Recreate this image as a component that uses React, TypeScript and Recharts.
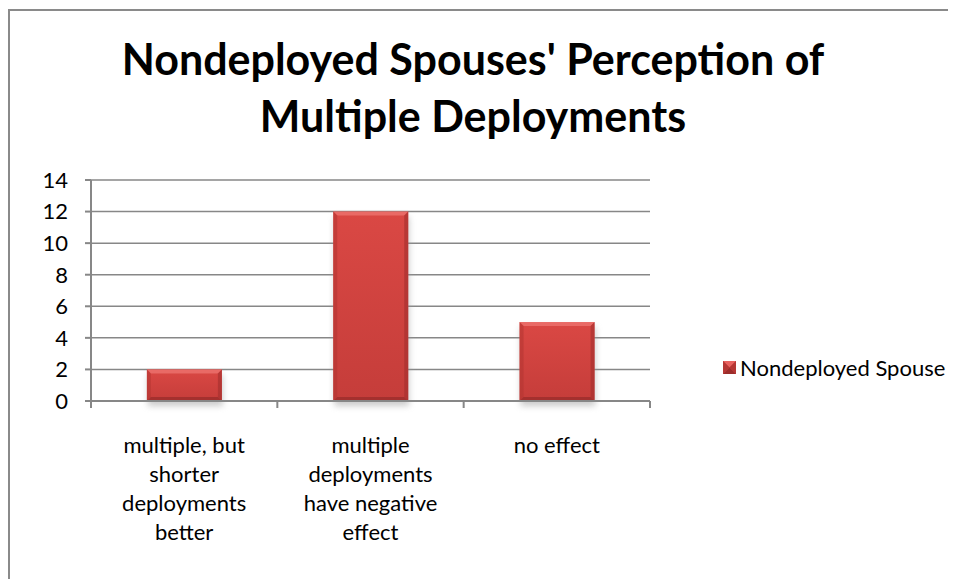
import React from "react";
import { Bar, BarChart, CartesianGrid, Legend, XAxis, YAxis } from "recharts";

const categories = [
  "multiple, but shorter deployments better",
  "multiple deployments have negative effect",
  "no effect",
];
const spouseCounts = [2, 12, 5];
const yTicks = [0, 2, 4, 6, 8, 10, 12, 14];
const seriesName = "Nondeployed Spouse";
const titleLines = ["Nondeployed Spouses' Perception of", "Multiple Deployments"];

const data = categories.map((name, i) => ({ name, value: spouseCounts[i] }));

const FONT = "Lato, 'Open Sans', sans-serif";
const CHART_W = 938;
const CHART_H = 561;
const PLOT_LEFT = 81;
const PLOT_RIGHT = 640;
const PLOT_BOTTOM = 391;
const LEGEND_W = 230;

// wrap a label greedily at ~14 characters, like Excel does
function wrapLabel(text: string, max = 14) {
  const words = text.split(" ");
  const lines: string[] = [];
  let cur = "";
  words.forEach((w) => {
    if (!cur) cur = w;
    else if ((cur + " " + w).length <= max) cur += " " + w;
    else {
      lines.push(cur);
      cur = w;
    }
  });
  if (cur) lines.push(cur);
  return lines;
}

const CategoryTick = (props: any) => {
  const { x, payload, index } = props;
  const band = (PLOT_RIGHT - PLOT_LEFT) / categories.length;
  const half = payload && payload.offset ? payload.offset : band / 2;
  const lines = wrapLabel(String(payload.value));
  return (
    <g>
      <line x1={x - half} x2={x - half} y1={PLOT_BOTTOM} y2={PLOT_BOTTOM + 7} stroke="#878787" strokeWidth={2} />
      {index === categories.length - 1 && (
        <line x1={x + half} x2={x + half} y1={PLOT_BOTTOM} y2={PLOT_BOTTOM + 7} stroke="#878787" strokeWidth={2} />
      )}
      <text x={x} y={PLOT_BOTTOM + 52} textAnchor="middle" fontFamily={FONT} fontSize={22} fill="#000">
        {lines.map((l, i) => (
          <tspan key={i} x={x} dy={i === 0 ? 0 : 29}>
            {l}
          </tspan>
        ))}
      </text>
    </g>
  );
};

const BevelBar = (props: any) => {
  const { x, y, width, height } = props;
  if (!height || height <= 0) return null;
  const b = Math.min(4, height / 4);
  return (
    <g>
      <rect x={x + 1} y={y + 5} width={width} height={height} fill="#9a9a9a" opacity={0.5} filter="url(#barShadow)" />
      <rect x={x} y={y} width={width} height={height} fill="url(#barFill)" />
      {/* top bevel */}
      <polygon points={`${x},${y} ${x + width},${y} ${x + width - b},${y + b} ${x + b},${y + b}`} fill="#ee7571" opacity={0.75} />
      {/* left bevel */}
      <polygon points={`${x},${y} ${x + b},${y + b} ${x + b},${y + height - b} ${x},${y + height}`} fill="#b33532" opacity={0.55} />
      {/* right bevel */}
      <polygon points={`${x + width},${y} ${x + width - b},${y + b} ${x + width - b},${y + height - b} ${x + width},${y + height}`} fill="#a22f2d" opacity={0.6} />
      {/* bottom bevel */}
      <polygon points={`${x},${y + height} ${x + b},${y + height - b} ${x + width - b},${y + height - b} ${x + width},${y + height}`} fill="#952b29" opacity={0.7} />
    </g>
  );
};

const LegendContent = () => (
  <div style={{ display: "flex", alignItems: "center", fontFamily: FONT, fontSize: 22, color: "#000" }}>
    <svg width={13} height={13} style={{ marginRight: 4 }}>
      <rect x={0} y={0} width={13} height={13} fill="#c9413e" />
      <polygon points="0,0 13,0 6.5,6.5" fill="#e8625f" />
      <polygon points="0,13 13,13 6.5,6.5" fill="#9c2d2b" />
      <polygon points="0,0 0,13 6.5,6.5" fill="#b53734" />
      <polygon points="13,0 13,13 6.5,6.5" fill="#b53734" />
    </svg>
    <span>{seriesName}</span>
  </div>
);

export default function App() {
  return (
    <div style={{ position: "relative", width: 948, height: 571, overflow: "hidden" }}>
      <div
        style={{
          position: "absolute",
          left: 0,
          top: 1,
          width: 1000,
          height: 700,
          border: "2px solid #8a8a8a",
          background: "#fff",
        }}
      />
      <div
        style={{
          position: "absolute",
          left: 2,
          top: 22,
          width: 926,
          textAlign: "center",
          fontFamily: FONT,
          fontWeight: 700,
          fontSize: 43,
          lineHeight: "57px",
          color: "#000",
        }}
      >
        {titleLines.map((t) => (
          <div key={t}>{t}</div>
        ))}
      </div>
      <div style={{ position: "absolute", left: 2, top: 2 }}>
        <BarChart
          width={CHART_W}
          height={CHART_H}
          data={data}
          margin={{ top: 170, right: CHART_W - PLOT_RIGHT - LEGEND_W, bottom: 40, left: PLOT_LEFT - 40 }}
          barCategoryGap="30%"
        >
          <defs>
            <linearGradient id="barFill" x1="0" y1="0" x2="0" y2="1">
              <stop offset="0%" stopColor="#da4844" />
              <stop offset="100%" stopColor="#c53d3a" />
            </linearGradient>
            <filter id="barShadow" x="-20%" y="-20%" width="140%" height="140%">
              <feGaussianBlur stdDeviation="3" />
            </filter>
          </defs>
          <CartesianGrid vertical={false} stroke="#878787" strokeWidth={1.5} />
          <XAxis
            dataKey="name"
            height={130}
            axisLine={{ stroke: "#878787", strokeWidth: 2 }}
            tickLine={false}
            tick={<CategoryTick />}
            interval={0}
          />
          <YAxis
            width={40}
            domain={[0, 14]}
            ticks={yTicks}
            interval={0}
            axisLine={{ stroke: "#878787", strokeWidth: 2 }}
            tickLine={{ stroke: "#878787", strokeWidth: 2 }}
            tickSize={6}
            tickMargin={17}
            tick={{ fontFamily: FONT, fontSize: 22, fill: "#000" }}
          />
          <Legend
            layout="vertical"
            align="right"
            verticalAlign="middle"
            width={LEGEND_W}
            content={<LegendContent />}
            wrapperStyle={{ left: 713, right: "auto", top: 344 }}
          />
          <Bar dataKey="value" name={seriesName} shape={<BevelBar />} isAnimationActive={false} />
        </BarChart>
      </div>
    </div>
  );
}
